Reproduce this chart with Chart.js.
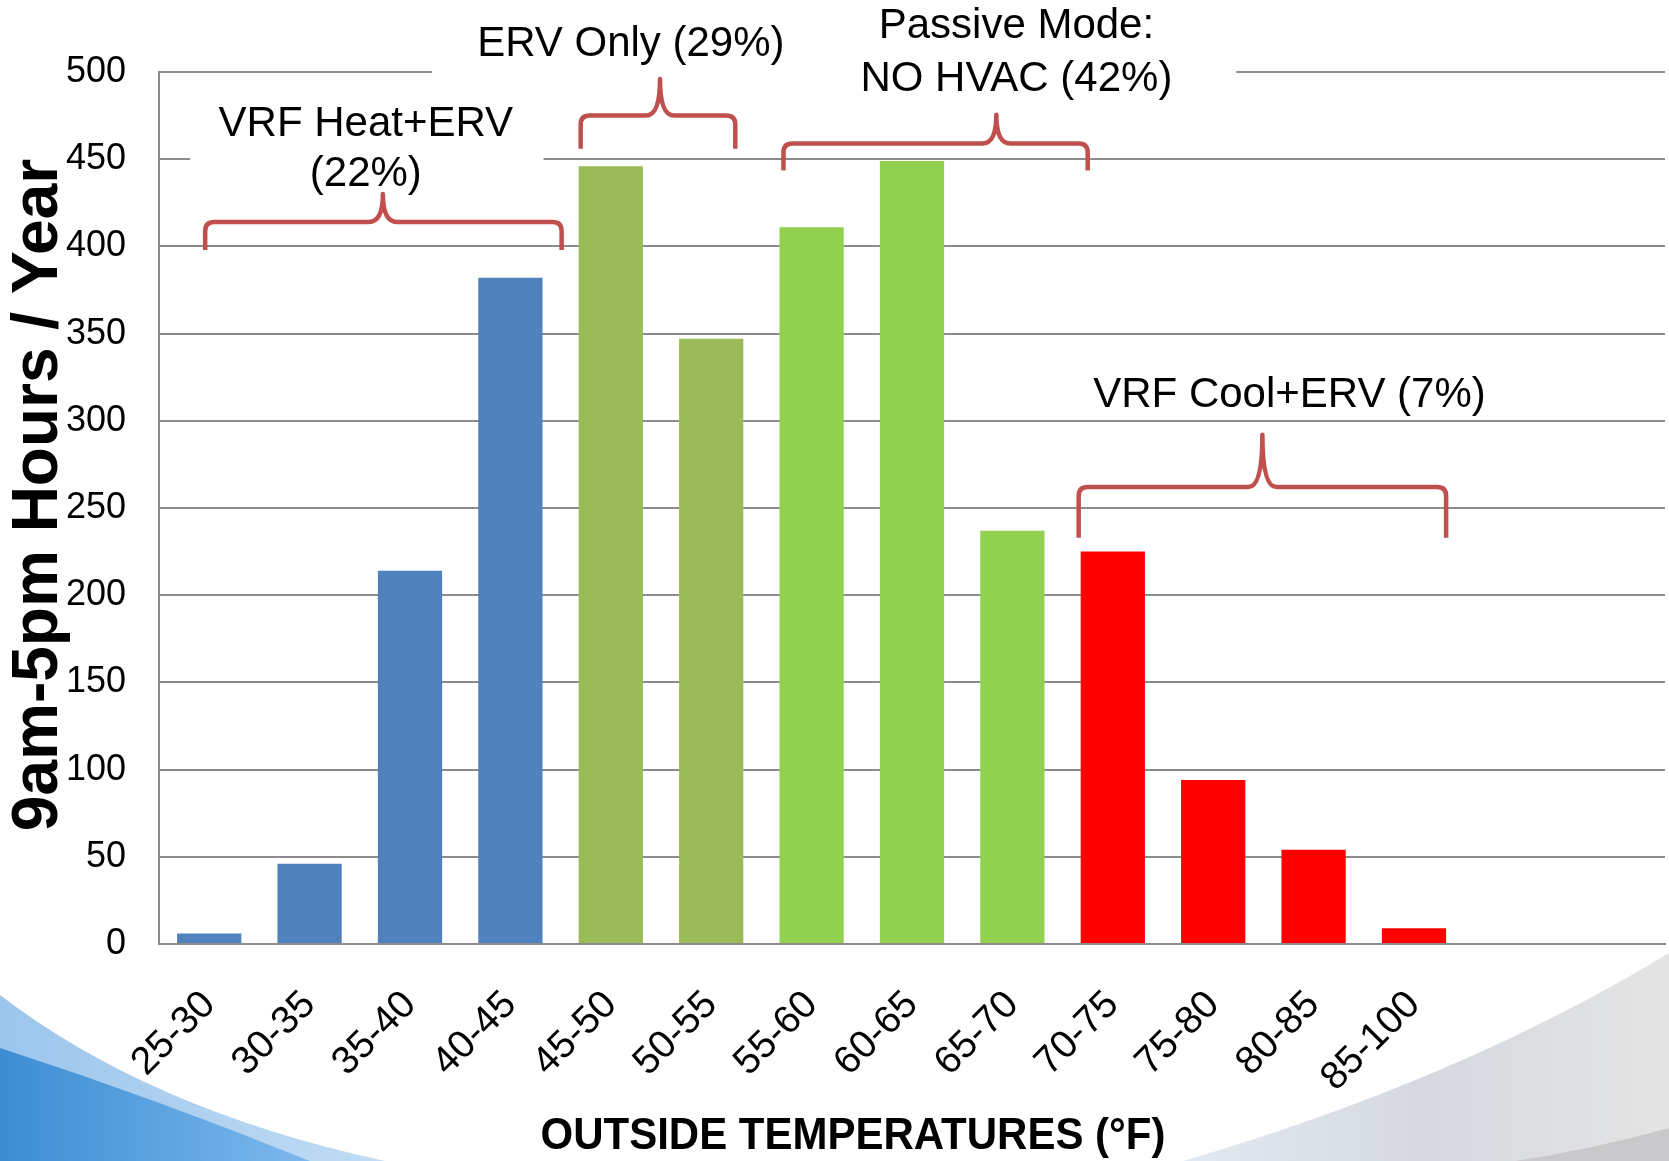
<!DOCTYPE html>
<html>
<head>
<meta charset="utf-8">
<script src="https://cdn.jsdelivr.net/npm/chart.js@4.4.1/dist/chart.umd.min.js"></script>
<style>
  html, body { margin: 0; padding: 0; background: #fff; }
  #wrap { width: 1669px; height: 1161px; }
</style>
</head>
<body>
<div id="wrap"><canvas id="myChart" width="1669" height="1161"></canvas></div>
<script>
// temperature bins (two empty slots at the end, like the original sheet)
const tempBins = ['25-30', '30-35', '35-40', '40-45', '45-50', '50-55', '55-60', '60-65', '65-70', '70-75', '75-80', '80-85', '85-100', '', '']
const hours = [6, 46, 214, 382, 446, 347, 411, 449, 237, 225, 94, 54, 9, null, null]

const xTitle = 'OUTSIDE TEMPERATURES (°F)'
const yTitle = '9am-5pm Hours / Year'

// colour per operating mode
const heatBlue = '#4F81BD'
const ervOlive = '#9BBB59'
const passiveGreen = '#92D050'
const coolRed = '#FF0000'
const barColors = [heatBlue, heatBlue, heatBlue, heatBlue, ervOlive, ervOlive,
    passiveGreen, passiveGreen, passiveGreen, coolRed, coolRed, coolRed, coolRed, coolRed, coolRed]

// mode labels, placed in axis units (x = category index, y = hours)
const modeTexts = [
    { lines: ['VRF Heat+ERV', '(22%)'], x: 1.56, y: [470, 441.5] },
    { lines: ['ERV Only (29%)'], x: 4.2, y: [516] },
    { lines: ['Passive Mode:', 'NO HVAC (42%)'], x: 8.04, y: [526, 496] },
    { lines: ['VRF Cool+ERV (7%)'], x: 10.76, y: [314.5] }
]
// white boxes behind the labels (hide gridlines there)
const labelBoxes = [
    { x1: -0.19, x2: 3.33, y1: 490, y2: 432 },
    { x1: 2.22, x2: 10.23, y1: 560, y2: 485 }
]
// curly brackets: from/to/tip on x, bar/end/peak on y
const brackets = [
    { from: -0.04, to: 3.51, tip: 1.73, bar: 414, end: 398, peak: 430 },
    { from: 3.70, to: 5.24, tip: 4.49, bar: 475, end: 456, peak: 496 },
    { from: 5.72, to: 8.75, tip: 7.84, bar: 459, end: 443.5, peak: 475.5 },
    { from: 8.66, to: 12.32, tip: 10.49, bar: 262, end: 233, peak: 292 }
]

const fontFam = "'Liberation Sans', Arial, sans-serif"
Chart.defaults.font.family = fontFam
Chart.defaults.color = '#000'

// background swooshes at the bottom corners
const decor = {
    id: 'decor',
    beforeDraw(chart) {
        const c = chart.ctx
        const W = chart.width, H = chart.height
        c.save()
        c.fillStyle = '#fff'
        c.fillRect(0, 0, W, H)

        // grey one, bottom right
        let g = c.createLinearGradient(1180, 0, W, 0)
        g.addColorStop(0, '#e3e9f2')
        g.addColorStop(0.5, '#d5d9df')
        g.addColorStop(1, '#e4e4e4')
        c.fillStyle = g
        c.beginPath()
        c.moveTo(W, 953)
        c.quadraticCurveTo(1460, 1080, 1183, H)
        c.lineTo(W, H)
        c.closePath()
        c.fill()
        c.fillStyle = '#c9c9cb'
        c.beginPath()
        c.moveTo(W, 1128)
        c.quadraticCurveTo(1590, 1150, 1515, H)
        c.lineTo(W, H)
        c.closePath()
        c.fill()

        // light blue, bottom left
        g = c.createLinearGradient(0, 0, 390, 0)
        g.addColorStop(0, '#9cc6ec')
        g.addColorStop(1, '#c2dcf4')
        c.fillStyle = g
        c.beginPath()
        c.moveTo(0, 995)
        c.quadraticCurveTo(150, 1110, 385, H)
        c.lineTo(0, H)
        c.closePath()
        c.fill()
        // darker blue
        g = c.createLinearGradient(0, 0, 320, 0)
        g.addColorStop(0, '#3b8dd3')
        g.addColorStop(1, '#7fbaee')
        c.fillStyle = g
        c.beginPath()
        c.moveTo(0, 1048)
        c.quadraticCurveTo(160, 1100, 310, H)
        c.lineTo(0, H)
        c.closePath()
        c.fill()
        c.restore()
    }
}

// mode labels, curly brackets and the axis titles
const modes = {
    id: 'modes',
    afterDatasetsDraw(chart) {
        const c = chart.ctx
        const xs = chart.scales.x, ys = chart.scales.y
        const px = v => xs.getPixelForValue(v)
        const py = v => ys.getPixelForValue(v)
        c.save()
        c.fillStyle = '#fff'
        labelBoxes.forEach(b => {
            c.fillRect(px(b.x1), py(b.y1), px(b.x2) - px(b.x1), py(b.y2) - py(b.y1))
        })

        c.fillStyle = '#000'
        c.font = '42px ' + fontFam
        c.textAlign = 'center'
        c.textBaseline = 'middle'
        modeTexts.forEach(t => {
            t.lines.forEach((line, i) => c.fillText(line, px(t.x), py(t.y[i])))
        })

        c.strokeStyle = '#C0504D'
        c.lineWidth = 4.5
        c.lineJoin = 'round'
        brackets.forEach(b => {
            const x1 = px(b.from), x2 = px(b.to), xt = px(b.tip)
            const yb = py(b.bar), ye = py(b.end), yp = py(b.peak)
            const r = 9, k = 14
            c.beginPath()
            c.moveTo(x1, ye)
            c.lineTo(x1, yb + r)
            c.quadraticCurveTo(x1, yb, x1 + r, yb)
            c.lineTo(xt - k, yb)
            c.quadraticCurveTo(xt, yb, xt, yp)
            c.quadraticCurveTo(xt, yb, xt + k, yb)
            c.lineTo(x2 - r, yb)
            c.quadraticCurveTo(x2, yb, x2, yb + r)
            c.lineTo(x2, ye)
            c.stroke()
        })

        // axis titles (the original is not centred on the plot)
        c.font = 'bold 42px ' + fontFam
        c.save()
        c.translate(853, 1137)
        c.scale(1, 1.06)
        c.fillText(xTitle, 0, 0)
        c.restore()

        c.font = 'bold 64px ' + fontFam
        c.save()
        c.translate(39, 495)
        c.rotate(-Math.PI / 2)
        c.fillText(yTitle, 0, 0)
        c.restore()
        c.restore()
    }
}

const ctx = document.getElementById('myChart')
new Chart(ctx, {
    type: 'bar',
    data: {
        labels: tempBins,
        datasets: [{
            label: yTitle,
            data: hours,
            backgroundColor: barColors,
            barPercentage: 0.64,
            categoryPercentage: 1
        }]
    },
    options: {
        responsive: false,
        animation: false,
        layout: { padding: { top: 72, right: 4, left: 0, bottom: 0 } },
        plugins: {
            legend: { display: false },
            tooltip: { enabled: false }
        },
        scales: {
            x: {
                offset: true,
                grid: { display: false, drawTicks: false },
                border: { display: true, color: '#8c8c8c', width: 2 },
                ticks: {
                    autoSkip: false,
                    minRotation: 45,
                    maxRotation: 45,
                    padding: 38,
                    color: '#000',
                    font: { size: 39 }
                },
                afterFit: scale => {
                    scale.height = 217
                    // labels may hang past the plot, don't shrink it for them
                    scale.paddingLeft = 0
                    scale.paddingRight = 0
                }
            },
            y: {
                min: 0,
                max: 500,
                grid: { color: '#8c8c8c', lineWidth: 2, drawTicks: false },
                border: { display: true, color: '#8c8c8c', width: 2 },
                ticks: {
                    stepSize: 50,
                    padding: 33,
                    color: '#000',
                    font: { size: 36 }
                },
                afterFit: scale => { scale.width = 159 }
            }
        }
    },
    plugins: [decor, modes]
})
</script>
</body>
</html>
